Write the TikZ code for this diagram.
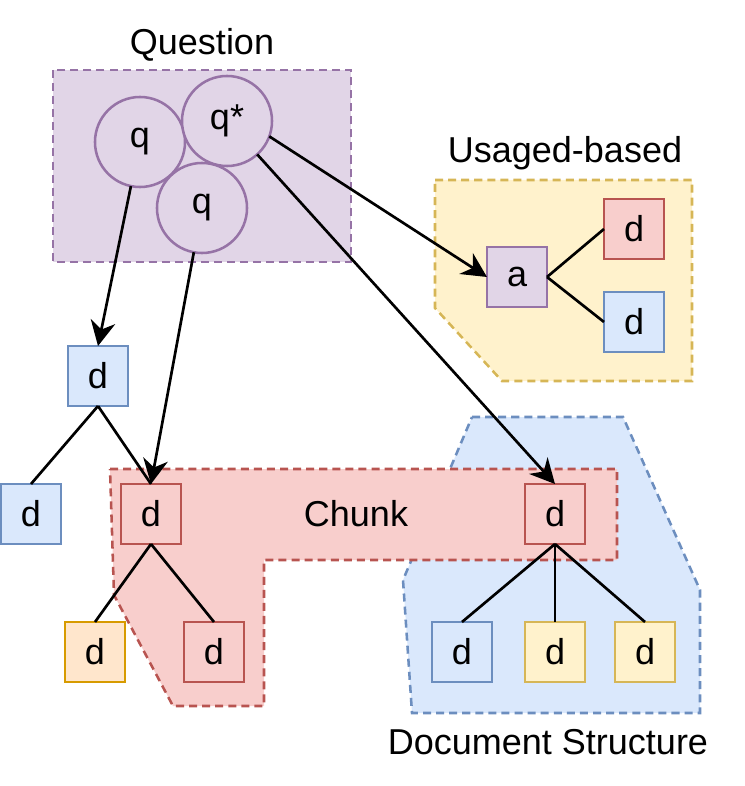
\documentclass[tikz,border=0pt]{standalone}
\usepackage{fontspec}
\setmainfont{Liberation Sans}
\usetikzlibrary{arrows.meta}

\begin{document}
\begin{tikzpicture}[x=0.025cm, y=-0.025cm,
    %Option for nice arrows
    >={Stealth[length=0.62cm,width=0.62cm,inset=0.2cm]}, %
    inner sep=0pt, outer sep=0pt,%
    font=\fontsize{25.6pt}{30pt}\selectfont,
    region/.style={fill=#1fill, draw=#1line, line width=1.8pt, dash pattern=on 5.7pt off 3.6pt},
    doc/.style={draw=#1line, fill=#1fill, line width=1.8pt, minimum size=1.5cm},
    query/.style={circle, draw=purpleline, fill=purplefill, line width=1.8pt, minimum size=2.25cm},
    link/.style={line width=1.9pt},
]
    % Colors
    \definecolor{purplefill}{HTML}{E1D5E7}
    \definecolor{purpleline}{HTML}{9673A6}
    \definecolor{yellowfill}{HTML}{FFF2CC}
    \definecolor{yellowline}{HTML}{D6B656}
    \definecolor{redfill}{HTML}{F8CECC}
    \definecolor{redline}{HTML}{B85450}
    \definecolor{bluefill}{HTML}{DAE8FC}
    \definecolor{blueline}{HTML}{6C8EBF}
    \definecolor{orangefill}{HTML}{FFE6CC}
    \definecolor{orangeline}{HTML}{D79B00}

    % Frame
    \useasboundingbox (0,0) rectangle (744,786);

    % Regions
    \draw[region=purple] (53,70) rectangle (351,262);
    \draw[region=yellow] (435,180) -- (692,180) -- (692,381) -- (502,381) -- (435,308) -- cycle;
    \draw[region=blue] (472,417) -- (623,417) -- (700,590) -- (700,713)
        -- (412,713) -- (403,580) -- cycle;
    \draw[region=red] (110,469) -- (617,469) -- (617,560) -- (264,560)
        -- (264,706) -- (173,706) -- (114,595) -- cycle;

    \node (question) at (202,45) {Question};
    \node (usage) at (565,153) {Usaged-based};
    \node (chunk) at (356,514) {Chunk};
    \node (structure) at (548,742) {Document Structure};

    % Questions
    \node[query] (q1) at (140,142) {q};
    \node[query] (qs) at (227,121) {q*};
    \node[query] (q2) at (202,208) {q};

    % Usage-based
    \node[doc=purple] (a)  at (517,277) {a};
    \node[doc=red]    (ua) at (634,229) {d};
    \node[doc=blue]   (ub) at (634,322) {d};

    % Left tree
    \node[doc=blue]   (top)  at (98,376) {d};
    \node[doc=blue]   (left) at (31,514) {d};
    \node[doc=red]    (c1)   at (151,514) {d};
    \node[doc=orange] (c1a)  at (95,652) {d};
    \node[doc=red]    (c1b)  at (214,652) {d};

    % Right tree
    \node[doc=red]    (c2)   at (555,514) {d};
    \node[doc=blue]   (c2a)  at (462,652) {d};
    \node[doc=yellow] (c2b)  at (555,652) {d};
    \node[doc=yellow] (c2c)  at (645,652) {d};

    % Tree edges
    \draw[link] (top.south) -- (left.north);
    \draw[link] (top.south) -- (c1.north);
    \draw[link] (c1.south) -- (c1a.north);
    \draw[link] (c1.south) -- (c1b.north);
    \draw[link] (c2.south) -- (c2a.north);
    \draw[link] (c2.south) -- (c2b.north);
    \draw[link] (c2.south) -- (c2c.north);
    \draw[link] (a.east) -- (ua.west);
    \draw[link] (a.east) -- (ub.west);

    % Retrieval arrows
    \draw[link,->] (q1) -- (top.north);
    \draw[link,->] (q2) -- (c1.north);
    \draw[link,->] (qs.-20) -- (a.west);
    \draw[link,->] (qs) -- (c2.north);
\end{tikzpicture}
\end{document}
